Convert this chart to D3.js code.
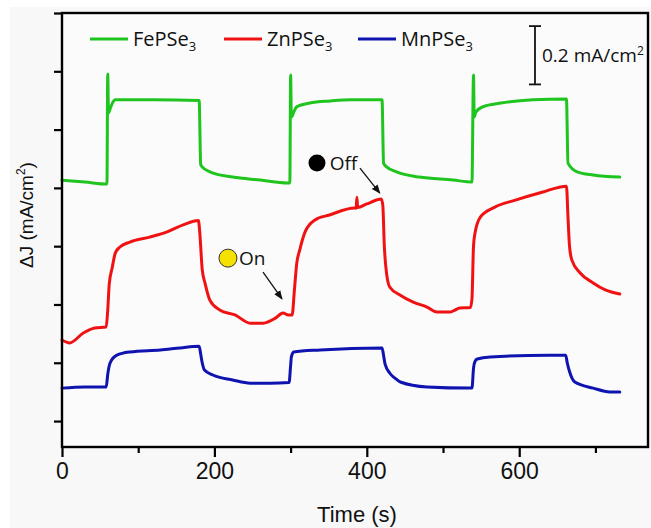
<!DOCTYPE html>
<html>
<head>
<meta charset="utf-8">
<script src="https://cdn.jsdelivr.net/npm/d3@7/dist/d3.min.js"></script>
<style>
  body { margin: 0; background: #ffffff; }
</style>
</head>
<body>
<div id="vis"></div>
<script>
// time in s, dJ in mA/cm2 (y axis unlabelled, one tick = 0.2 mA/cm2)
var xTicks = [0, 200, 400, 600];
var xMinorTicks = [100, 300, 500, 700];
var yTicks = [0, 0.2, 0.4, 0.6, 0.8, 1.0, 1.2, 1.4];

var seriesNames = ["FePSe", "ZnPSe", "MnPSe"];
var seriesColors = ["#1fc41f", "#f01212", "#0f14b0"];

var fePSe3 = [
  [0,0.826],[30,0.820],[59,0.813],
  [60,1.191],[61,1.057],[63,1.070],[66,1.090],[70,1.102],[120,1.102],[180,1.100],
  [182,0.880],[184,0.872],[194,0.855],[224,0.837],[260,0.827],[296,0.817],[299,0.817],
  [300,1.187],[301,1.043],[305,1.065],[308,1.078],[325,1.091],[352,1.098],[380,1.102],[420,1.102],
  [422,0.885],[426,0.872],[439,0.855],[469,0.837],[513,0.827],[538,0.820],
  [540,1.187],[541,1.043],[543,1.060],[552,1.078],[576,1.091],[618,1.102],[662,1.105],
  [664,0.885],[676,0.855],[697,0.844],[732,0.837]
];

var znPSe3 = [
  [0,0.278],[10,0.268],[28,0.302],[43,0.319],[58,0.323],
  [60,0.380],[62,0.470],[66,0.528],[70,0.577],[76,0.597],[89,0.614],[115,0.631],[138,0.649],[159,0.673],[179,0.688],
  [181,0.640],[184,0.520],[188,0.470],[194,0.415],[207,0.381],[227,0.364],[247,0.336],[264,0.336],[280,0.353],[290,0.371],[297,0.364],[302,0.364],
  [305,0.450],[308,0.540],[312,0.587],[319,0.649],[332,0.690],[351,0.707],[384,0.731],
  [386,0.730],[387,0.768],[388,0.733],[400,0.745],[419,0.762],
  [421,0.740],[423,0.600],[425,0.528],[430,0.460],[444,0.432],[461,0.408],[479,0.391],[492,0.374],[509,0.374],[515,0.380],[522,0.388],[536,0.390],
  [538,0.420],[540,0.600],[542,0.645],[549,0.700],[568,0.734],[595,0.758],[630,0.785],[662,0.806],
  [664,0.700],[666,0.600],[669,0.553],[680,0.508],[697,0.474],[713,0.450],[732,0.436]
];

var mnPSe3 = [
  [0,0.113],[30,0.117],[58,0.117],
  [60,0.160],[63,0.199],[72,0.226],[89,0.237],[129,0.244],[155,0.251],[180,0.257],
  [182,0.230],[184,0.200],[187,0.175],[198,0.158],[224,0.141],[247,0.130],[273,0.130],[298,0.132],
  [300,0.190],[301,0.220],[304,0.237],[339,0.244],[420,0.251],
  [422,0.225],[424,0.195],[430,0.165],[437,0.147],[444,0.134],[479,0.117],[535,0.113],[538,0.113],
  [540,0.180],[542,0.205],[545,0.213],[562,0.220],[640,0.226],[661,0.226],
  [663,0.200],[666,0.170],[673,0.134],[697,0.113],[719,0.100],[732,0.100]
];

var series = [fePSe3, znPSe3, mnPSe3];

function init()
{
  var width = 651;
  var height = 528;
  var left = 62, right = 648, top = 13, bottom = 447;

  var svg = d3.select("#vis")
    .append("svg")
    .attr("width", width)
    .attr("height", height);

  svg.append("rect")
    .attr("x", 10)
    .attr("y", 7)
    .attr("width", width - 10)
    .attr("height", height - 7)
    .style("fill", "#f8f8f8");

  svg.append("rect")
    .attr("x", left)
    .attr("y", top)
    .attr("width", right - left)
    .attr("height", bottom - top)
    .style("fill", "#fbfbfb");

  var xScale = d3.scaleLinear()
    .domain([0, 769])
    .range([left, right]);

  var yScale = d3.scaleLinear()
    .domain([-0.089, 1.4])
    .range([bottom, top]);

  // arrow head for the on/off pointers
  svg.append("defs").append("marker")
    .attr("id", "arrow")
    .attr("viewBox", "0 0 10 10")
    .attr("refX", 9)
    .attr("refY", 5)
    .attr("markerWidth", 7)
    .attr("markerHeight", 7)
    .attr("orient", "auto")
    .append("path")
      .attr("d", "M0,1 L10,5 L0,9 z")
      .style("fill", "#111");

  var line = d3.line()
    .x(function(d) {return xScale(d[0]);})
    .y(function(d) {return yScale(d[1]);})
    .curve(d3.curveMonotoneX);

  series.forEach(function(s, i) {
    svg.append("path")
      .datum(s)
      .attr("d", line)
      .style("fill", "none")
      .style("stroke", seriesColors[i])
      .style("stroke-width", "3")
      .style("stroke-linejoin", "round")
      .style("stroke-linecap", "round");
  });

  // axes
  var xAxis = d3.axisBottom(xScale)
    .tickValues(xTicks)
    .tickSize(10)
    .tickPadding(6)
    .tickFormat(d3.format("d"));

  var xMinor = d3.axisBottom(xScale)
    .tickValues(xMinorTicks)
    .tickSize(6)
    .tickFormat("");

  var yAxis = d3.axisLeft(yScale)
    .tickValues(yTicks)
    .tickSize(8)
    .tickFormat("");

  var gx = svg.append("g")
    .attr("transform", "translate(0," + bottom + ")")
    .call(xAxis);
  gx.select(".domain").remove();
  gx.selectAll("line").style("stroke", "#000").style("stroke-width", "2.2");
  gx.selectAll("text")
    .style("font-family", "'Liberation Sans', Arial, sans-serif")
    .style("font-size", "23px")
    .style("fill", "#111");

  var gm = svg.append("g")
    .attr("transform", "translate(0," + bottom + ")")
    .call(xMinor);
  gm.select(".domain").remove();
  gm.selectAll("line").style("stroke", "#000").style("stroke-width", "2.2");

  var gy = svg.append("g")
    .attr("transform", "translate(" + left + ",0)")
    .call(yAxis);
  gy.select(".domain").remove();
  gy.selectAll("line").style("stroke", "#000").style("stroke-width", "2.2");

  // frame
  svg.append("rect")
    .attr("x", left)
    .attr("y", top)
    .attr("width", right - left)
    .attr("height", bottom - top)
    .style("fill", "none")
    .style("stroke", "#000")
    .style("stroke-width", "2.4");

  // axis titles
  svg.append("text")
    .attr("x", (left + right) / 2 + 2)
    .attr("y", 522)
    .style("text-anchor", "middle")
    .style("font-family", "'Liberation Sans', Arial, sans-serif")
    .style("font-size", "22px")
    .style("fill", "#111")
    .text("Time (s)");

  var yl = svg.append("text")
    .attr("transform", "translate(33," + 215 + ") rotate(-90)")
    .style("text-anchor", "middle")
    .style("font-family", "'Liberation Sans', Arial, sans-serif")
    .style("font-size", "19px")
    .style("fill", "#111");
  yl.append("tspan").text("\u0394J (mA/cm");
  yl.append("tspan").attr("dy", -8).style("font-size", "12px").text("2");
  yl.append("tspan").attr("dy", 8).text(")");

  // legend
  var legendX = [90, 224, 358];
  seriesNames.forEach(function(name, i) {
    svg.append("line")
      .attr("x1", legendX[i])
      .attr("x2", legendX[i] + 38)
      .attr("y1", 39)
      .attr("y2", 39)
      .style("stroke", seriesColors[i])
      .style("stroke-width", "3");
    var t = svg.append("text")
      .attr("x", legendX[i] + 43)
      .attr("y", 46)
      .style("font-family", "'Open Sans', sans-serif")
      .style("font-size", "20px")
      .style("fill", "#111");
    t.append("tspan").text(name);
    t.append("tspan").attr("dy", 5).style("font-size", "13px").text("3");
  });

  // scale bar 0.2 mA/cm2
  var barT = 620.7, barLo = 1.155, barHi = 1.355;
  var bar = svg.append("g").style("stroke", "#111").style("stroke-width", "1.8");
  bar.append("line")
    .attr("x1", xScale(barT)).attr("x2", xScale(barT))
    .attr("y1", yScale(barLo)).attr("y2", yScale(barHi));
  bar.append("line")
    .attr("x1", xScale(barT) - 6).attr("x2", xScale(barT) + 6)
    .attr("y1", yScale(barLo)).attr("y2", yScale(barLo));
  bar.append("line")
    .attr("x1", xScale(barT) - 6).attr("x2", xScale(barT) + 6)
    .attr("y1", yScale(barHi)).attr("y2", yScale(barHi));

  var bt = svg.append("text")
    .attr("x", xScale(barT) + 7)
    .attr("y", yScale(1.255) + 7)
    .style("font-family", "'Open Sans', sans-serif")
    .style("font-size", "19px")
    .style("fill", "#111");
  bt.append("tspan").text("0.2 mA/cm");
  bt.append("tspan").attr("dy", -7).style("font-size", "12px").text("2");

  // light off / on markers
  svg.append("circle")
    .attr("cx", xScale(334.6))
    .attr("cy", yScale(0.885))
    .attr("r", 8.5)
    .style("fill", "#000");
  svg.append("text")
    .attr("x", xScale(351.5))
    .attr("y", yScale(0.885) + 7)
    .style("font-family", "'Open Sans', sans-serif")
    .style("font-size", "19px")
    .style("fill", "#111")
    .text("Off");
  svg.append("line")
    .attr("x1", xScale(391)).attr("y1", yScale(0.868))
    .attr("x2", xScale(417)).attr("y2", yScale(0.782))
    .style("stroke", "#111")
    .style("stroke-width", "1.3")
    .attr("marker-end", "url(#arrow)");

  svg.append("circle")
    .attr("cx", xScale(217.8))
    .attr("cy", yScale(0.559))
    .attr("r", 9)
    .style("fill", "#f5e100")
    .style("stroke", "#333")
    .style("stroke-width", "1");
  svg.append("text")
    .attr("x", xScale(232.3))
    .attr("y", yScale(0.559) + 7)
    .style("font-family", "'Open Sans', sans-serif")
    .style("font-size", "19px")
    .style("fill", "#111")
    .text("On");
  svg.append("line")
    .attr("x1", xScale(263.8)).attr("y1", yScale(0.511))
    .attr("x2", xScale(288.7)).attr("y2", yScale(0.419))
    .style("stroke", "#111")
    .style("stroke-width", "1.3")
    .attr("marker-end", "url(#arrow)");
}

window.onload = init;
</script>
</body>
</html>
